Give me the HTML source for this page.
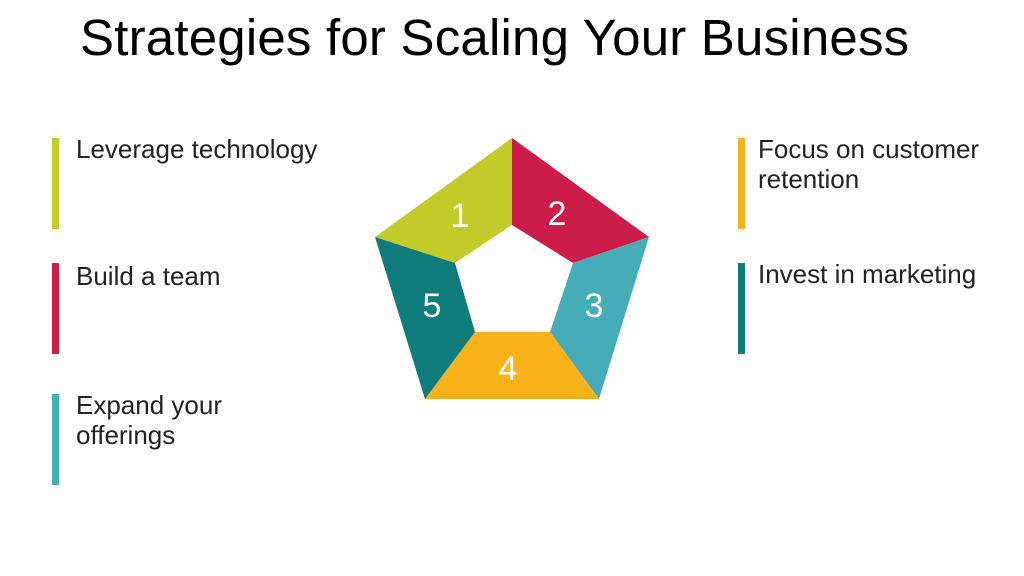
<!DOCTYPE html>
<html><head><style>
body{margin:0;width:1024px;height:576px;background:#fff;position:relative;overflow:hidden;font-family:"Liberation Sans",sans-serif}
.t{position:absolute;left:80px;top:8px;font-size:51px;color:#000;white-space:nowrap;letter-spacing:0.2px}
.bar{position:absolute;width:7px;height:91px}
.l{position:absolute;font-size:26px;color:#222;line-height:30px}
</style></head><body>
<div class="t">Strategies for Scaling Your Business</div>
<div class="bar" style="left:52px;top:138px;background:#c3cb2a"></div>
<div class="bar" style="left:52px;top:263px;background:#cc1c4a"></div>
<div class="bar" style="left:52px;top:394px;background:#46adb8"></div>
<div class="bar" style="left:738px;top:138px;background:#f9b21b"></div>
<div class="bar" style="left:738px;top:263px;background:#0f7b7b"></div>
<div class="l" style="left:76px;top:134px">Leverage technology</div>
<div class="l" style="left:76px;top:261px">Build a team</div>
<div class="l" style="left:76px;top:390px">Expand your<br>offerings</div>
<div class="l" style="left:758px;top:134px">Focus on customer<br>retention</div>
<div class="l" style="left:758px;top:259px">Invest in marketing</div>
<svg width="1024" height="576" style="position:absolute;left:0;top:0">
<polygon points="375,237 512,138 512,225 455,263" fill="#c3cb2a"/>
<polygon points="512,138 649,237 573,263 512,225" fill="#cc1c4a"/>
<polygon points="649,237 599,399 550,332 573,263" fill="#46adb8"/>
<polygon points="475,332 550,332 599,399 425,399" fill="#f9b21b"/>
<polygon points="425,399 375,237 455,263 475,332" fill="#0f7b7b"/>
<g fill="#fff" font-family="Liberation Sans,sans-serif" font-size="34" text-anchor="middle">
<text x="460" y="227">1</text><text x="557" y="225">2</text><text x="594" y="317">3</text><text x="508" y="380">4</text><text x="432" y="317">5</text>
</g>
</svg>
</body></html>
